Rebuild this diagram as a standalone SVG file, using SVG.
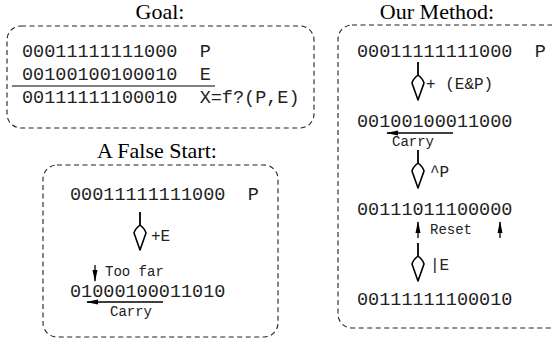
<svg xmlns="http://www.w3.org/2000/svg" width="552" height="342" viewBox="0 0 552 342">
<style>
.box{fill:none;stroke:#222;stroke-width:1.1;stroke-dasharray:5 3.5}
.title{font-family:"Liberation Serif",serif;font-size:22px;fill:#000;text-anchor:middle}
.bits{font-family:"Liberation Mono",monospace;font-size:18.5px;fill:#222;white-space:pre}
.lbl{font-family:"Liberation Mono",monospace;font-size:14px;fill:#222;white-space:pre}
.op{font-family:"Liberation Mono",monospace;font-size:16px;fill:#222;white-space:pre}
.ln{stroke:#000;stroke-width:1.3;fill:none}
.kite{fill:#fff;stroke:#000;stroke-width:1.6;stroke-linejoin:round}
</style>
<defs>
<symbol id="kite" overflow="visible">
<line class="ln" x1="0" y1="0" x2="0" y2="13" style="stroke-width:1.8"/>
<path class="kite" d="M0,13 Q5,17 6,21 L0,38 L-6,21 Q-5,17 0,13 Z"/>
</symbol>
<marker id="fh" viewBox="0 0 12 6" refX="11" refY="3" markerWidth="12" markerHeight="6" markerUnits="userSpaceOnUse" orient="auto">
<path d="M0,0.5 L12,3 L0,5.5 Z" fill="#000"/>
</marker>
</defs>

<g id="goal">
<text class="title" x="160" y="19">Goal:</text>
<rect class="box" x="7" y="26" width="307" height="102" rx="14"/>
<text class="bits" x="22" y="57">00011111111000  P</text>
<text class="bits" x="22" y="80">00100100100010  E</text>
<line class="ln" x1="12" y1="86" x2="215" y2="86" style="stroke-width:1"/>
<text class="bits" x="22" y="103">00111111100010  X=f?(P,E)</text>
</g>

<g id="false-start">
<text class="title" x="157" y="158">A False Start:</text>
<rect class="box" x="43" y="165" width="235" height="172" rx="14"/>
<text class="bits" x="70" y="200">00011111111000  P</text>
<text class="bits" x="70" y="297">01000100011010</text>
<text class="op" x="151" y="241">+E</text>
<text class="lbl" x="105" y="276">Too far</text>
<text class="lbl" x="110" y="316">Carry</text>
</g>

<g id="our-method">
<text class="title" x="437" y="19">Our Method:</text>
<rect class="box" x="338" y="25" width="240" height="303" rx="14"/>
<text class="bits" x="357" y="57">00011111111000  P</text>
<text class="op" x="426" y="89">+ (E&amp;P)</text>
<text class="bits" x="357" y="127">00100100011000</text>
<text class="lbl" x="392" y="146">Carry</text>
<text class="op" x="430" y="177">^P</text>
<text class="bits" x="357" y="215">00111011100000</text>
<text class="lbl" x="430" y="234">Reset</text>
<text class="op" x="430" y="270">|E</text>
<text class="bits" x="357" y="305">00111111100010</text>
</g>

<g id="connectors">
<use href="#kite" x="140" y="212"/>
<line class="ln" x1="95" y1="265" x2="95" y2="281" marker-end="url(#fh)"/>
<line class="ln" x1="163" y1="302" x2="87" y2="302" marker-end="url(#fh)"/>
<use href="#kite" x="418" y="62"/>
<line class="ln" x1="453" y1="133" x2="387" y2="133" marker-end="url(#fh)"/>
<use href="#kite" x="418" y="150"/>
<line class="ln" x1="418" y1="238" x2="418" y2="222" marker-end="url(#fh)"/>
<line class="ln" x1="500" y1="238" x2="500" y2="222" marker-end="url(#fh)"/>
<use href="#kite" x="418" y="243"/>
</g>
</svg>
